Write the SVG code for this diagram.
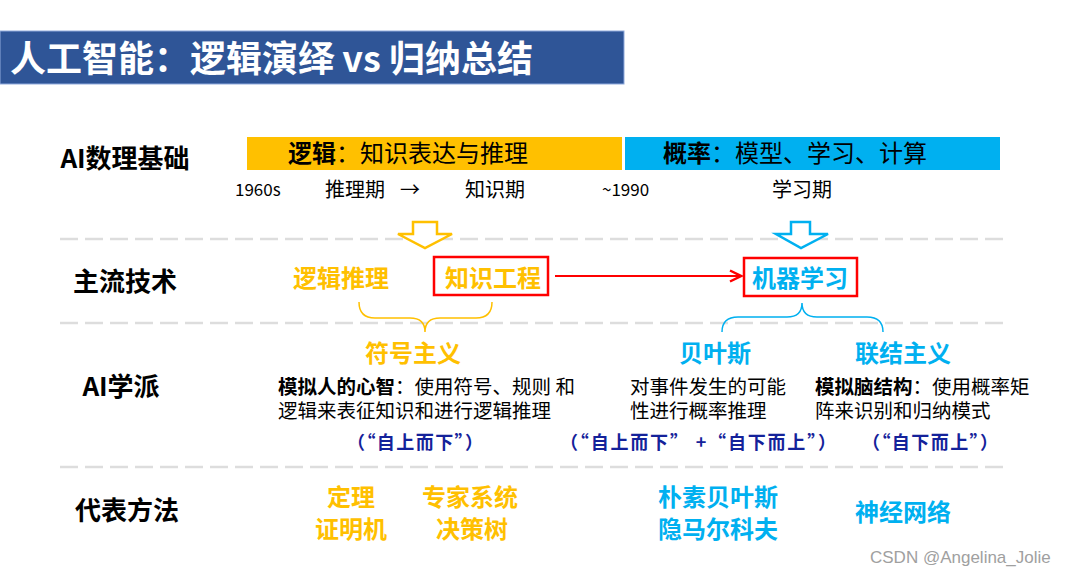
<svg xmlns="http://www.w3.org/2000/svg" width="1080" height="577" viewBox="0 0 1080 577">
<defs>
<style>
text{font-family:"Noto Sans CJK SC","Noto Sans",sans-serif;}
.lbl{font-size:26px;font-weight:bold;fill:#000;text-anchor:middle;}
.bar{font-size:24px;fill:#000;}
.era{font-size:20px;fill:#000;}
.yr{font-size:17px;fill:#000;}
.tech{font-size:24px;font-weight:bold;}
.or{fill:#FFC000;}
.bl{fill:#00B0F0;}
.desc{font-size:19.5px;fill:#000;}
.nav{font-size:18px;font-weight:bold;fill:#14229A;}
.dash{stroke:#DDDDDD;stroke-width:2.5;stroke-dasharray:18 7;fill:none;}
.box{fill:none;stroke:#FF0000;stroke-width:2.5;}
.mid{text-anchor:middle;}
</style>
<marker id="ah" markerWidth="14" markerHeight="14" refX="12" refY="7" orient="auto" markerUnits="userSpaceOnUse">
<polyline points="1,1.5 12,7 1,12.5" fill="none" stroke="#FF0000" stroke-width="2.5"/>
</marker>
</defs>
<rect width="1080" height="577" fill="#FFFFFF"/>

<g id="title">
<rect x="0" y="31" width="624" height="53" fill="#2F5597" stroke="#8FAADC" stroke-width="1"/>
<text x="10" y="72" font-size="36" font-weight="bold" fill="#FFFFFF">人工智能：逻辑演绎 vs 归纳总结</text>
</g>

<g id="separators">
<line class="dash" x1="60" y1="239" x2="1006" y2="239"/>
<line class="dash" x1="60" y1="323" x2="1006" y2="323"/>
<line class="dash" x1="60" y1="467" x2="1006" y2="467"/>
</g>

<g id="row-labels">
<text class="lbl" x="125" y="168">AI数理基础</text>
<text class="lbl" x="125" y="291">主流技术</text>
<text class="lbl" x="121" y="396">AI学派</text>
<text class="lbl" x="127" y="520">代表方法</text>
</g>

<g id="logic-bar">
<rect x="247" y="137" width="375" height="33" fill="#FFC000"/>
<text class="bar" x="288" y="162"><tspan font-weight="bold">逻辑</tspan>：知识表达与推理</text>
</g>
<g id="prob-bar">
<rect x="625" y="137" width="375" height="33" fill="#00B0F0"/>
<text class="bar" x="663" y="162"><tspan font-weight="bold">概率</tspan>：模型、学习、计算</text>
</g>

<g id="timeline">
<text class="yr" x="235" y="196">1960s</text>
<text class="era" x="325" y="197">推理期</text>
<text class="era" x="400" y="197">→</text>
<text class="era" x="465" y="197">知识期</text>
<text class="yr" x="602" y="196">~1990</text>
<text class="era" x="772" y="197">学习期</text>
</g>

<g id="connectors">
<polygon points="413,222 437,222 437,234 452,234 425,248 398,234 413,234" fill="#FFFFFF" stroke="#FFC000" stroke-width="2.5" stroke-linejoin="miter"/>
<polygon points="791,222 810,222 810,234 828,234 801,248 776,234 791,234" fill="#FFFFFF" stroke="#00B0F0" stroke-width="2.5" stroke-linejoin="miter"/>
<line x1="555" y1="276" x2="741" y2="276" stroke="#FF0000" stroke-width="2" marker-end="url(#ah)"/>
<path d="M359,302 Q359,318 375,318 L410,318 Q425,318 425,332 Q425,318 440,318 L476,318 Q492,318 492,302" fill="none" stroke="#FFC000" stroke-width="1.5"/>
<path d="M722,332 Q722,317 738,317 L787,317 Q802,317 802,303 Q802,317 817,317 L867,317 Q883,317 883,332" fill="none" stroke="#00B0F0" stroke-width="1.5"/>
</g>

<g id="logic-reasoning">
<text class="tech or" x="293" y="287">逻辑推理</text>
</g>
<g id="knowledge-eng">
<rect class="box" x="434" y="257" width="114" height="38"/>
<text class="tech or" x="445" y="287">知识工程</text>
</g>
<g id="machine-learning">
<rect class="box" x="744" y="258" width="113" height="38"/>
<text class="tech bl" x="752" y="287">机器学习</text>
</g>

<g id="symbolism">
<text class="tech or mid" x="413" y="362">符号主义</text>
<text class="desc" x="278" y="394"><tspan font-weight="bold">模拟人的心智</tspan>：使用符号、规则 和<tspan x="278" dy="24">逻辑来表征知识和进行逻辑推理</tspan></text>
<text class="nav" x="347" y="449" textLength="136" lengthAdjust="spacing">（“自上而下”）</text>
</g>
<g id="bayes">
<text class="tech bl mid" x="715" y="362">贝叶斯</text>
<text class="desc" x="630" y="394">对事件发生的可能<tspan x="630" dy="24">性进行概率推理</tspan></text>
<text class="nav" x="560" y="449" textLength="276" lengthAdjust="spacing">（“自上而下” +“自下而上”）</text>
</g>
<g id="connectionism">
<text class="tech bl mid" x="903" y="362">联结主义</text>
<text class="desc" x="815" y="394"><tspan font-weight="bold">模拟脑结构</tspan>：使用概率矩<tspan x="815" dy="24">阵来识别和归纳模式</tspan></text>
<text class="nav" x="862" y="449" textLength="136" lengthAdjust="spacing">（“自下而上”）</text>
</g>

<g id="methods">
<text class="tech or mid" x="351" y="506">定理</text>
<text class="tech or mid" x="351" y="538">证明机</text>
<text class="tech or mid" x="470" y="506">专家系统</text>
<text class="tech or mid" x="472" y="538">决策树</text>
<text class="tech bl mid" x="718" y="506">朴素贝叶斯</text>
<text class="tech bl mid" x="718" y="538">隐马尔科夫</text>
<text class="tech bl mid" x="903" y="521">神经网络</text>
</g>

<g id="watermark">
<text x="870" y="563" font-size="17" fill="#A0A0A0" style="font-family:'Liberation Sans',Arial,sans-serif">CSDN @Angelina_Jolie</text>
</g>
</svg>
